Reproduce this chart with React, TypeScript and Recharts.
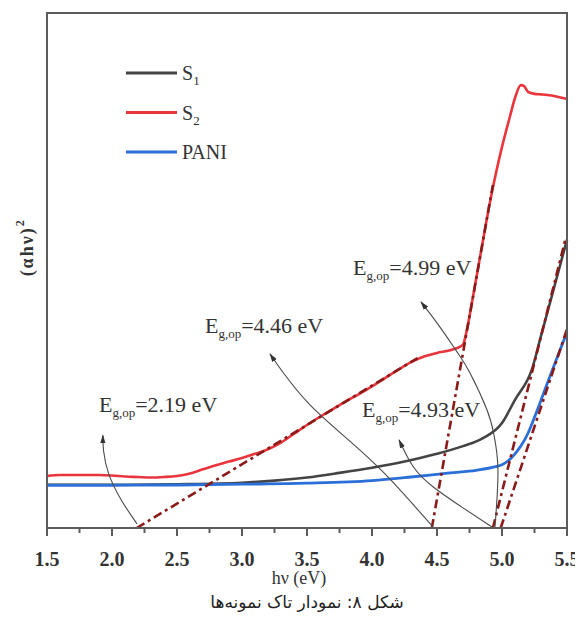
import React from 'react';
import { LineChart, Line, XAxis, YAxis, ReferenceDot, ReferenceLine, Legend } from 'recharts';

// ---------- data (photon energy hv in eV, (αhν)² in arbitrary units) ----------
const S1_POINTS: number[][] = [
  [1.5, 8.4], [2.0, 8.4], [2.5, 8.5], [3.0, 8.8], [3.25, 9.2], [3.5, 9.8], [3.75, 10.7],
  [4.0, 11.7], [4.25, 12.9], [4.5, 14.4], [4.7, 15.9], [4.85, 17.4], [5.0, 20.4],
  [5.1, 24.9], [5.23, 30.8], [5.3, 37.3], [5.4, 46.6], [5.5, 56.0],
];
const S2_POINTS: number[][] = [
  [1.5, 10.1], [1.6, 10.3], [1.75, 10.3], [1.9, 10.3], [2.0, 10.2], [2.1, 10.0], [2.2, 9.9],
  [2.3, 9.8], [2.4, 9.9], [2.5, 10.1], [2.6, 10.6], [2.7, 11.4], [2.8, 12.2], [2.9, 12.9],
  [3.0, 13.6], [3.1, 14.4], [3.2, 15.3], [3.3, 16.6], [3.4, 18.3], [3.5, 20.0], [3.6, 21.6],
  [3.7, 23.1], [3.8, 24.6], [3.9, 26.0], [4.0, 27.5], [4.1, 29.1], [4.2, 30.7], [4.3, 32.2],
  [4.4, 33.3], [4.5, 34.0], [4.6, 34.5], [4.65, 34.9], [4.7, 35.6], [4.73, 38.5],
  [4.76, 42.5], [4.8, 48.2], [4.85, 55.3], [4.9, 62.3], [4.95, 68.5], [5.0, 74.0],
  [5.06, 79.8], [5.1, 83.5], [5.145, 86.0], [5.17, 85.8], [5.2, 84.7], [5.25, 84.3],
  [5.3, 84.2], [5.4, 83.9], [5.5, 83.3],
];
const PANI_POINTS: number[][] = [
  [1.5, 8.3], [2.0, 8.3], [2.5, 8.35], [3.0, 8.5], [3.5, 8.7], [4.0, 9.2], [4.3, 9.9],
  [4.6, 10.7], [4.8, 11.2], [4.95, 11.9], [5.0, 12.3], [5.05, 13.1], [5.1, 14.4],
  [5.15, 16.1], [5.2, 18.4], [5.25, 21.5], [5.3, 24.8], [5.35, 28.2], [5.4, 31.5],
  [5.45, 34.8], [5.5, 38.0],
];

// tangent (Tauc extrapolation) lines
const TANGENT_S2_LOW: number[][] = [[2.19, 0], [4.35, 33.0]];
const TANGENT_S2_HIGH: number[][] = [[4.46, 0], [4.93, 66.6]];
const TANGENT_S1: number[][] = [[4.93, 0], [5.49, 56.3]];
const TANGENT_PANI: number[][] = [[4.99, 0], [5.5, 38.6]];

// annotation arrows (tail at the intercept, head at the label)
const ARROW_219: number[][] = [[2.192, 0.8], [2.07, 5.5], [1.975, 10.5], [1.935, 15.0], [1.93, 18.0]];
const ARROW_446: number[][] = [[4.469, 0.2], [4.1, 10.5], [3.792, 17.7], [3.523, 23.9], [3.331, 29.7], [3.215, 33.8]];
const ARROW_493: number[][] = [[4.923, 0.2], [4.7, 3.9], [4.469, 8.0], [4.315, 12.0], [4.208, 17.1]];
const ARROW_499: number[][] = [[4.946, 0.2], [4.969, 11.3], [4.938, 18.1], [4.885, 22.9], [4.754, 30.1], [4.654, 34.2], [4.523, 39.0], [4.377, 43.9]];

const GAP_LABELS = [
  { value: '=2.19 eV', x: 1.9, y: 22.5 },
  { value: '=4.46 eV', x: 2.715, y: 37.9 },
  { value: '=4.99 eV', x: 3.854, y: 49.1 },
  { value: '=4.93 eV', x: 3.923, y: 21.6 },
];

const X_DOMAIN = [1.5, 5.5];
const Y_DOMAIN = [0, 100];
const X_TICKS = [1.5, 1.75, 2.0, 2.25, 2.5, 2.75, 3.0, 3.25, 3.5, 3.75, 4.0, 4.25, 4.5, 4.75, 5.0, 5.25, 5.5];
const SERIES_NAMES = ['S1', 'S2', 'PANI'];
const LEGEND_TEXT: Record<string, [string, string]> = { S1: ['S', '1'], S2: ['S', '2'], PANI: ['PANI', ''] };

const X_LABEL = 'hν (eV)';
const Y_LABEL = '(αhν)';
const CAPTION = 'شکل ۸: نمودار تاک نمونه‌ها';

// ---------- style / layout ----------
const C_S1 = '#444444';
const C_S2 = '#e8363c';
const C_PANI = '#2b6fd8';
const C_TAN = '#8b1a1a';
const C_ARROW = '#4a4a4a';
const C_FRAME = '#5c5c5c';
const SERIF = '"Liberation Serif", "Times New Roman", serif';
const CHART_W = 575;
const CHART_H = 590;
const MARGIN = { top: 5, right: 16, left: 0, bottom: 28 };
const Y_AXIS_W = 39;
const X_AXIS_H = 42;

const toObj = (pts: number[][]) => pts.map(([x, y]) => ({ x, y }));

const XTick = (props: any) => {
  const { x, y, payload } = props;
  const v = payload.value as number;
  const major = Math.abs(v * 2 - Math.round(v * 2)) < 1e-6;
  return (
    <g>
      <line x1={x} x2={x} y1={y} y2={y + (major ? 8 : 5)} stroke={C_FRAME} strokeWidth={2} />
      {major && (
        <text x={x} y={y + 38} textAnchor="middle" fontFamily={SERIF} fontWeight="bold" fontSize={20} fill="#333">
          {v.toFixed(1)}
        </text>
      )}
    </g>
  );
};

const renderLegend = (props: any) => {
  const items = (props.payload || [])
    .filter((p: any) => SERIES_NAMES.includes(p.value))
    .sort((a: any, b: any) => SERIES_NAMES.indexOf(a.value) - SERIES_NAMES.indexOf(b.value));
  return (
    <svg width={140} height={105}>
      {items.map((p: any, i: number) => {
        const cy = 10 + i * 39.5;
        const [main, sub] = LEGEND_TEXT[p.value];
        return (
          <g key={p.value}>
            <line x1={0} x2={51} y1={cy} y2={cy} stroke={p.color} strokeWidth={3} />
            <text x={56} y={cy + 7} fontFamily={SERIF} fontSize={20} fill="#333">
              {main}
              {sub && <tspan dy={5} fontSize={13}>{sub}</tspan>}
            </text>
          </g>
        );
      })}
    </svg>
  );
};

const GapLabel = ({ cx, cy, value }: any) => (
  <text x={cx} y={cy} fontFamily={SERIF} fontSize={22} fill="#333">
    E<tspan dy={5} fontSize={13}>g,op</tspan><tspan dy={-5}>{value}</tspan>
  </text>
);

const YLabel = (props: any) => {
  const vb = props.viewBox || { x: 0, y: 5, width: 39, height: 515 };
  const cx = vb.x + 19;
  const cy = vb.y + vb.height * 0.455;
  return (
    <text x={cx} y={cy} transform={`rotate(-90 ${cx} ${cy})`} textAnchor="middle" dominantBaseline="central"
      fontFamily={SERIF} fontWeight="bold" fontSize={18} fill="#333" letterSpacing={2}>
      {Y_LABEL}<tspan dy={-7} fontSize={12}>2</tspan>
    </text>
  );
};

const XLabel = (props: any) => {
  const vb = props.viewBox || { x: 39, y: 520, width: 520, height: 42 };
  return (
    <text x={vb.x + vb.width / 2 - 8} y={vb.y + vb.height + 14} textAnchor="middle"
      fontFamily={SERIF} fontSize={18} fill="#333">
      {X_LABEL}
    </text>
  );
};

export default function App() {
  const seriesStyle = { dot: false, activeDot: false, isAnimationActive: false } as const;
  const tangentProps = {
    ...seriesStyle, stroke: C_TAN, strokeWidth: 2.6, strokeDasharray: '9 4 3 4', legendType: 'none' as const, type: 'linear' as const,
  };
  const arrowProps = {
    ...seriesStyle, stroke: C_ARROW, strokeWidth: 1.1, legendType: 'none' as const, type: 'natural' as const, markerEnd: 'url(#arrowHead)',
  };
  const frameLine = { stroke: C_FRAME, strokeWidth: 2 };
  // plot-area box (derived from the chart margins / axis sizes) for the frame border
  const plotLeft = MARGIN.left + Y_AXIS_W;
  const plotTop = MARGIN.top;
  const plotW = CHART_W - MARGIN.left - MARGIN.right - Y_AXIS_W;
  const plotH = CHART_H - MARGIN.top - MARGIN.bottom - X_AXIS_H;
  return (
    <div style={{ position: 'relative', width: CHART_W, height: 617 }}>
      <svg width={0} height={0} style={{ position: 'absolute' }}>
        <defs>
          <marker id="arrowHead" viewBox="0 0 10 6" refX={9} refY={3} markerWidth={9} markerHeight={5.4}
            orient="auto" markerUnits="userSpaceOnUse">
            <path d="M0,0 L10,3 L0,6 z" fill="#333" />
          </marker>
        </defs>
      </svg>
      <LineChart width={CHART_W} height={CHART_H} margin={MARGIN}>
        <XAxis dataKey="x" type="number" domain={X_DOMAIN} ticks={X_TICKS}
          tick={<XTick />} tickLine={false} axisLine={frameLine} tickSize={0} tickMargin={0} height={X_AXIS_H}
          interval={0} label={{ content: XLabel }} />
        <YAxis dataKey="y" type="number" domain={Y_DOMAIN} tick={false} tickLine={false}
          axisLine={frameLine} width={Y_AXIS_W} label={{ content: YLabel }} />
        <ReferenceLine y={Y_DOMAIN[1]} stroke={C_FRAME} strokeWidth={2} />
        <ReferenceLine x={X_DOMAIN[1]} stroke={C_FRAME} strokeWidth={2} />
        <Line data={toObj(S1_POINTS)} dataKey="y" name="S1" stroke={C_S1} strokeWidth={2.6} type="monotone" {...seriesStyle} />
        <Line data={toObj(S2_POINTS)} dataKey="y" name="S2" stroke={C_S2} strokeWidth={2.6} type="monotone" {...seriesStyle} />
        <Line data={toObj(PANI_POINTS)} dataKey="y" name="PANI" stroke={C_PANI} strokeWidth={2.8} type="monotone" {...seriesStyle} />
        <Line data={toObj(TANGENT_S2_LOW)} dataKey="y" name="t1" {...tangentProps} />
        <Line data={toObj(TANGENT_S2_HIGH)} dataKey="y" name="t2" {...tangentProps} />
        <Line data={toObj(TANGENT_S1)} dataKey="y" name="t3" {...tangentProps} />
        <Line data={toObj(TANGENT_PANI)} dataKey="y" name="t4" {...tangentProps} />
        <Line data={toObj(ARROW_219)} dataKey="y" name="a1" {...arrowProps} />
        <Line data={toObj(ARROW_446)} dataKey="y" name="a2" {...arrowProps} />
        <Line data={toObj(ARROW_493)} dataKey="y" name="a3" {...arrowProps} />
        <Line data={toObj(ARROW_499)} dataKey="y" name="a4" {...arrowProps} />
        {GAP_LABELS.map((g) => (
          <ReferenceDot key={g.value} x={g.x} y={g.y} r={0} ifOverflow="visible"
            shape={(p: any) => <GapLabel cx={p.cx} cy={p.cy} value={g.value} />} />
        ))}
        <Legend content={renderLegend} layout="vertical" align="center" verticalAlign="middle"
          wrapperStyle={{ top: 55, left: 118, width: 140, height: 105 }} />
      </LineChart>
      <div style={{
        position: 'absolute', left: plotLeft - 1, top: plotTop - 1, width: plotW + 2, height: plotH + 2,
        border: `2px solid ${C_FRAME}`, boxSizing: 'border-box', pointerEvents: 'none',
      }} />
      <div dir="rtl" style={{
        position: 'absolute', top: 584, left: 299, transform: 'translateX(-50%)', whiteSpace: 'nowrap',
        fontFamily: '"DejaVu Sans", sans-serif', fontSize: 17, color: '#222',
      }}>
        {CAPTION}
      </div>
    </div>
  );
}
